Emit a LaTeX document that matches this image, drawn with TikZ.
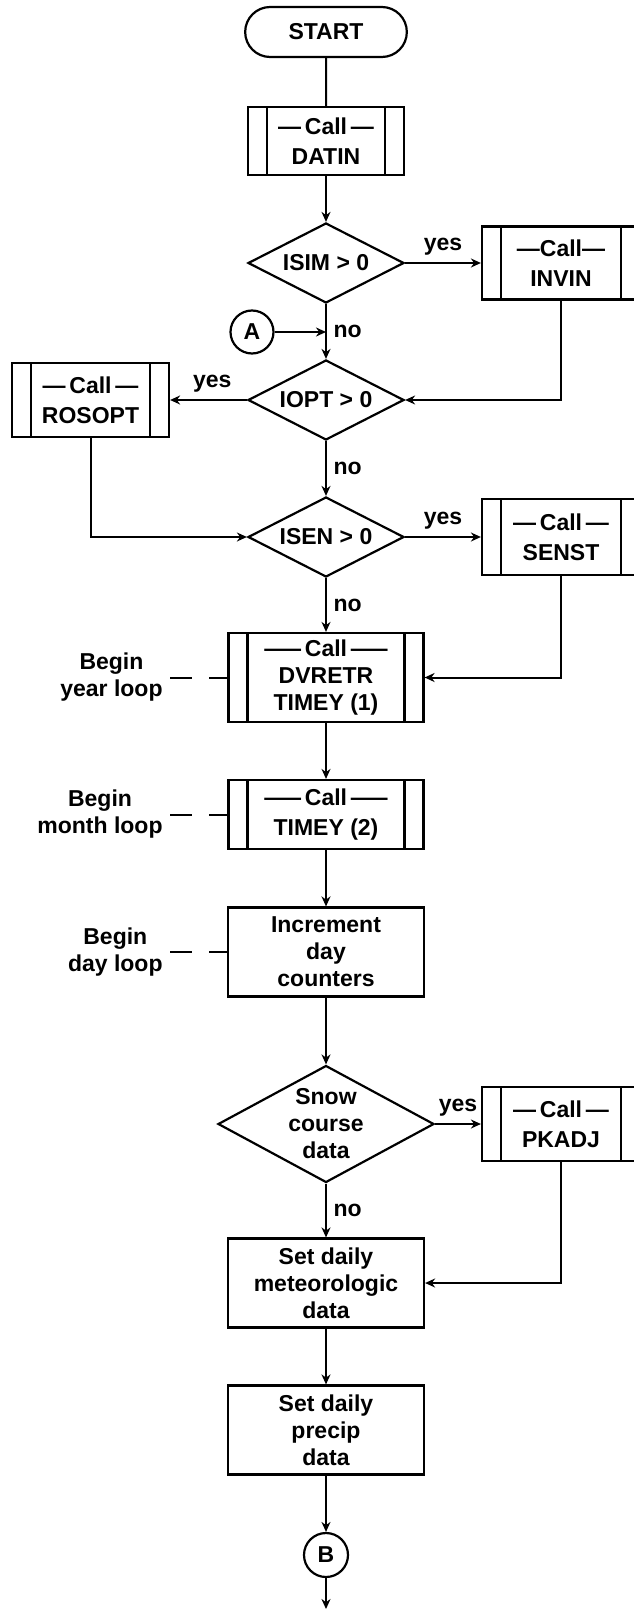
\documentclass[tikz,border=0pt]{standalone}
\usepackage{fontspec}
\setmainfont{Liberation Sans}
\usetikzlibrary{shapes.geometric, shapes.misc, arrows.meta}

\newcommand{\longdash}{\scalebox{1.6}[1]{\textemdash}}

\tikzset{
  every node/.style={font=\fontsize{11.5}{13.5}\selectfont\bfseries},
  terminal/.style={draw, rounded rectangle, line width=1.1pt, minimum width=87.5pt, minimum height=25pt},
  callbox/.style={draw, rectangle, line width=1.1pt, align=center,
    path picture={
      \draw[line width=1.1pt] ([xshift=9.5pt]path picture bounding box.north west) -- ([xshift=9.5pt]path picture bounding box.south west)
        ([xshift=-9.5pt]path picture bounding box.north east) -- ([xshift=-9.5pt]path picture bounding box.south east);
    }},
  procbox/.style={draw, rectangle, line width=1.1pt, align=center, minimum width=98pt, minimum height=44.5pt},
  decision/.style={draw, diamond, aspect=2, line width=1.1pt, inner sep=0pt, align=center, minimum width=78pt, minimum height=40pt},
  conn/.style={draw, circle, line width=1.1pt, inner sep=0pt, minimum size=21.5pt},
  looplbl/.style={align=center, anchor=east, inner xsep=3.5pt},
  arr/.style={-{Stealth[length=5pt,width=4.5pt]}, line width=1pt},
  ln/.style={line width=1pt},
  loopdash/.style={line width=1pt, dash pattern=on 11pt off 8.5pt}
}

\begin{document}
\begin{tikzpicture}[x=0.5pt, y=-0.5pt]
    \useasboundingbox (0,0) rectangle (633,1610);

    \node[terminal] (start) at (326,32) {START};
    \node[callbox, minimum width=78pt, minimum height=34pt] (datin) at (326,141) {\textemdash\,Call\,\textemdash\\[1.5pt]DATIN};
    \node[decision] (isim) at (326,263) {ISIM > 0};
    \node[callbox, minimum width=79pt, minimum height=36.5pt] (invin) at (561,263) {\textemdash Call\textemdash\\[1.5pt]INVIN};
    \node[conn] (a) at (252,332) {A};
    \node[decision] (iopt) at (326,400) {IOPT > 0};
    \node[callbox, minimum width=78.5pt, minimum height=37pt] (rosopt) at (90.5,400) {\textemdash\,Call\,\textemdash\\[1.5pt]ROSOPT};
    \node[decision] (isen) at (326,537) {ISEN > 0};
    \node[callbox, minimum width=79pt, minimum height=38pt] (senst) at (561,537) {\textemdash\,Call\,\textemdash\\[1.5pt]SENST};
    \node[callbox, minimum width=97.5pt, minimum height=44.5pt] (dvretr) at (326,677.5) {\longdash\,Call\,\longdash\\DVRETR\\TIMEY (1)};
    \node[callbox, minimum width=97.5pt, minimum height=34.5pt] (timey) at (326,814.5) {\longdash\,Call\,\longdash\\[1.5pt]TIMEY (2)};
    \node[procbox] (incr) at (326,952) {Increment\\day\\counters};
    \node[decision, minimum width=96pt, minimum height=58.5pt] (snow) at (326,1124) {Snow\\course\\data};
    \node[callbox, minimum width=79pt, minimum height=37pt] (pkadj) at (561,1124) {\textemdash\,Call\,\textemdash\\[1.5pt]PKADJ};
    \node[procbox] (met) at (326,1283) {Set daily\\meteorologic\\data};
    \node[procbox] (precip) at (326,1430) {Set daily\\precip\\data};
    \node[conn, minimum size=22pt] (b) at (326,1555) {B};
    \coordinate (bend) at (326,1609);

    \node[looplbl] (yearlbl) at (170,677.5) {Begin\\year loop};
    \node[looplbl] (monthlbl) at (170,814.5) {Begin\\month loop};
    \node[looplbl] (daylbl) at (170,952) {Begin\\day loop};

    \draw[ln] (start) -- (datin);
    \draw[arr] (datin) -- (isim);
    \draw[arr] (isim) -- node[above] {yes} (invin);
    \draw[arr] (isim) -- node[right] {no} (iopt);
    \draw[arr] (a) -- (a -| isim);
    \draw[arr] (invin) |- (iopt);
    \draw[arr] (iopt) -- node[above, pos=.45] {yes} (rosopt);
    \draw[arr] (iopt) -- node[right] {no} (isen);
    \draw[arr] (rosopt) |- (isen);
    \draw[arr] (isen) -- node[above] {yes} (senst);
    \draw[arr] (isen) -- node[right] {no} (dvretr);
    \draw[arr] (senst) |- (dvretr);
    \draw[arr] (dvretr) -- (timey);
    \draw[arr] (timey) -- (incr);
    \draw[arr] (incr) -- (snow);
    \draw[arr] (snow) -- node[above] {yes} (pkadj);
    \draw[arr] (snow) -- node[right] {no} (met);
    \draw[arr] (pkadj) |- (met);
    \draw[arr] (met) -- (precip);
    \draw[arr] (precip) -- (b);
    \draw[arr] (b) -- (bend);

    \draw[loopdash] (yearlbl) -- (dvretr);
    \draw[loopdash] (monthlbl) -- (timey);
    \draw[loopdash] (daylbl) -- (incr);
\end{tikzpicture}
\end{document}
